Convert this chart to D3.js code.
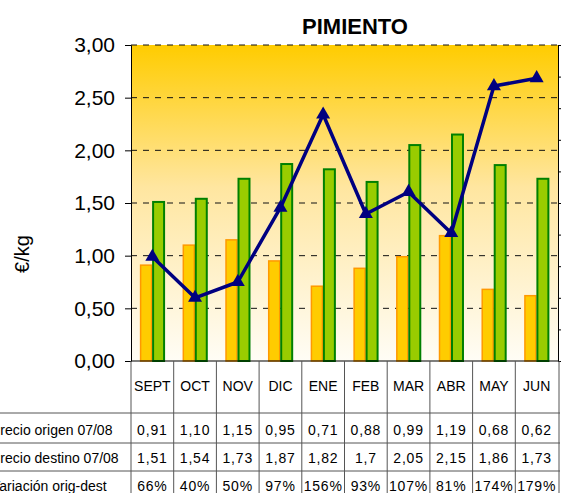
<!DOCTYPE html>
<html>
<head>
<meta charset="utf-8">
<script src="https://cdn.jsdelivr.net/npm/d3@7"></script>
<style>
  body { margin: 0; background: #fff; }
  svg { display: block; font-family: "Liberation Sans", Arial, sans-serif; }
</style>
</head>
<body>
<div id="chart"></div>
<script>
const months = ['SEPT', 'OCT', 'NOV', 'DIC', 'ENE', 'FEB', 'MAR', 'ABR', 'MAY', 'JUN']
const origenTxt = ['0,91', '1,10', '1,15', '0,95', '0,71', '0,88', '0,99', '1,19', '0,68', '0,62']
const destinoTxt = ['1,51', '1,54', '1,73', '1,87', '1,82', '1,7', '2,05', '2,15', '1,86', '1,73']
const variacion = [66, 40, 50, 97, 156, 93, 107, 81, 174, 179]
const rowLabels = ['Precio origen 07/08', 'Precio destino 07/08', 'Variación orig-dest']
const yTicks = [0, 0.5, 1, 1.5, 2, 2.5, 3]

const origen = origenTxt.map(s => +s.replace(',', '.'))
const destino = destinoTxt.map(s => +s.replace(',', '.'))
const variacionTxt = variacion.map(v => v + '%')

const width = 561, height = 493
const plot = { left: 131, right: 558, top: 45, bottom: 361 }

const svg = d3.select('#chart').append('svg')
  .attr('width', width)
  .attr('height', height)

// background gradient of the plot area
const grad = svg.append('defs').append('linearGradient')
  .attr('id', 'bg').attr('x1', 0).attr('y1', 0).attr('x2', 0).attr('y2', 1)
grad.append('stop').attr('offset', 0).attr('stop-color', '#FFCC00')
grad.append('stop').attr('offset', 0.45).attr('stop-color', '#FFE6A0')
grad.append('stop').attr('offset', 1).attr('stop-color', '#FFFDF6')

svg.append('rect')
  .attr('x', plot.left).attr('y', plot.top)
  .attr('width', plot.right - plot.left).attr('height', plot.bottom - plot.top)
  .attr('fill', 'url(#bg)')

const x = d3.scaleBand().domain(months).range([plot.left, plot.right])
const xSub = d3.scaleBand().domain(['o', 'd']).range([0, x.bandwidth()]).paddingOuter(0.71)
const y = d3.scaleLinear().domain([0, 3]).range([plot.bottom, plot.top])
const y2 = d3.scaleLinear().domain([0, 200]).range([plot.bottom, plot.top])

// dashed gridlines
svg.append('g').selectAll('line')
  .data(yTicks.slice(1))
  .enter().append('line')
  .attr('x1', plot.left).attr('x2', plot.right)
  .attr('y1', d => y(d)).attr('y2', d => y(d))
  .attr('stroke', '#111')
  .attr('stroke-dasharray', '6,6')

// bars
const groups = svg.append('g').selectAll('g')
  .data(months)
  .enter().append('g')
  .attr('transform', d => `translate(${x(d)},0)`)

groups.append('rect')
  .attr('x', xSub('o') + 0.75)
  .attr('y', (d, i) => y(origen[i]))
  .attr('width', xSub.bandwidth() - 1.5)
  .attr('height', (d, i) => y(0) - y(origen[i]))
  .attr('fill', '#FFCC00')
  .attr('stroke', '#FF9900')
  .attr('stroke-width', 1.5)

groups.append('rect')
  .attr('x', xSub('d') + 0.75)
  .attr('y', (d, i) => y(destino[i]))
  .attr('width', xSub.bandwidth() - 1.5)
  .attr('height', (d, i) => y(0) - y(destino[i]))
  .attr('fill', '#99CC00')
  .attr('stroke', '#008000')
  .attr('stroke-width', 2)

// axes
const fmt = d3.formatLocale({ decimal: ',', thousands: '.', grouping: [3], currency: ['', '€'] }).format('.2f')

const yAxis = svg.append('g')
  .attr('transform', `translate(${plot.left},0)`)
  .call(d3.axisLeft(y).tickValues(yTicks).tickFormat(fmt).tickSize(6).tickPadding(10))
yAxis.selectAll('text').attr('font-size', 21).attr('fill', '#000').attr('font-family', '"Liberation Sans", Arial, sans-serif')
yAxis.selectAll('line, path').attr('stroke', '#000')

const y2Axis = svg.append('g')
  .attr('transform', `translate(${plot.right},0)`)
  .call(d3.axisRight(y2).ticks(10).tickFormat('').tickSize(6).tickSizeOuter(0))
y2Axis.selectAll('line, path').attr('stroke', '#000')

// bottom line of plot
svg.append('line')
  .attr('x1', plot.left).attr('x2', plot.right)
  .attr('y1', plot.bottom).attr('y2', plot.bottom)
  .attr('stroke', '#000').attr('stroke-width', 1.2)

// variation line on secondary axis
const cx = d => x(d) + x.bandwidth() / 2
const line = d3.line()
  .x((d, i) => cx(months[i]))
  .y(d => y2(d))

svg.append('path')
  .datum(variacion)
  .attr('d', line)
  .attr('fill', 'none')
  .attr('stroke', '#000080')
  .attr('stroke-width', 3.5)
  .attr('stroke-linejoin', 'round')

svg.append('g').selectAll('path')
  .data(variacion)
  .enter().append('path')
  .attr('d', d3.symbol().type(d3.symbolTriangle).size(85))
  .attr('transform', (d, i) => `translate(${cx(months[i])},${y2(d)})`)
  .attr('fill', '#000080')

// title and axis title
svg.append('text')
  .attr('x', 355).attr('y', 34)
  .attr('text-anchor', 'middle')
  .attr('font-size', 22).attr('font-weight', 'bold')
  .text('PIMIENTO')

svg.append('text')
  .attr('transform', 'translate(29,254) rotate(-90)')
  .attr('text-anchor', 'middle')
  .attr('font-size', 20)
  .text('€/kg')

// data table
const table = svg.append('g')
const rowLines = [413, 443, 471]
const rowBase = [435, 463, 491]
const gridColor = '#555'

table.selectAll('line.h')
  .data(rowLines)
  .enter().append('line')
  .attr('x1', 0).attr('x2', 560)
  .attr('y1', d => d).attr('y2', d => d)
  .attr('stroke', gridColor)

table.selectAll('line.v')
  .data(months.map(m => x(m)).concat([plot.right + 1]))
  .enter().append('line')
  .attr('x1', d => d).attr('x2', d => d)
  .attr('y1', plot.bottom).attr('y2', height)
  .attr('stroke', gridColor)

table.selectAll('text.head')
  .data(months)
  .enter().append('text')
  .attr('x', d => cx(d)).attr('y', 391)
  .attr('text-anchor', 'middle')
  .attr('font-size', 14)
  .text(d => d)

// row labels run off the left edge, as in the source chart
const rows = [origenTxt, destinoTxt, variacionTxt]
rows.forEach((vals, r) => {
  table.append('text')
    .attr('x', -9).attr('y', rowBase[r])
    .attr('font-size', 14)
    .text(rowLabels[r])
  table.selectAll('text.r' + r)
    .data(vals)
    .enter().append('text')
    .attr('x', (d, i) => cx(months[i])).attr('y', rowBase[r])
    .attr('text-anchor', 'middle')
    .attr('font-size', 14)
    .attr('letter-spacing', 0.8)
    .text(d => d)
})
</script>
</body>
</html>
